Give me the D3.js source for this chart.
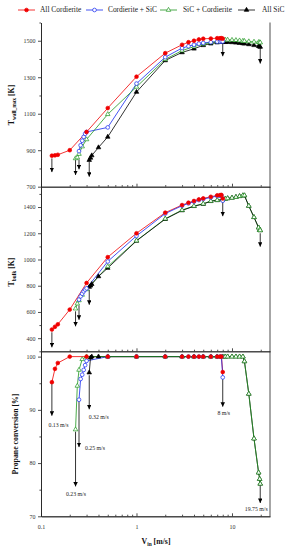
<!DOCTYPE html>
<html>
<head>
<meta charset="utf-8">
<script src="https://cdn.jsdelivr.net/npm/d3@7"></script>
<style>
body { margin: 0; background: #fff; }
svg { display: block; font-family: "Liberation Serif", "Times New Roman", serif; }
</style>
</head>
<body>
<svg width="289" height="550"></svg>
<script>
"use strict";

// --- data ---
const seriesNames = ["All Cordierite", "Cordierite + SiC", "SiC + Cordierite", "All SiC"];

const redV     = [0.13, 0.14, 0.15, 0.2, 0.3, 0.5, 1, 2, 3, 3.5, 4, 4.5, 5, 6, 7, 7.5, 7.75, 8];
const redTwall = [870, 872, 875, 900, 1000, 1131, 1303, 1432, 1478, 1492, 1500, 1507, 1511, 1512, 1514, 1514, 1514, 1512];
const redTbulk = [466, 487, 506, 618, 821, 1018, 1200, 1357, 1415, 1433, 1446, 1458, 1466, 1478, 1489, 1491, 1492, 1465];
const redConv  = [95.2, 97.7, 98.8, 100, 100, 100, 100, 100, 100, 100, 100, 100, 100, 100, 100, 100, 100, 97.1];

const blueV     = [0.25, 0.26, 0.27, 0.28, 0.29, 0.3, 0.5, 1, 2, 3, 3.5, 4, 4.5, 5, 6, 7, 7.5, 7.75, 8];
const blueTwall = [895, 927, 952, 973, 990, 1000, 1025, 1265, 1410, 1460, 1470, 1478, 1484, 1488, 1492, 1495, 1496, 1497, 1496];
const blueTbulk = [694, 719, 739, 757, 770, 780, 985, 1180, 1350, 1410, 1428, 1441, 1453, 1461, 1473, 1484, 1486, 1487, 1448];
const blueConv  = [91.9, 95.8, 96.6, 97.5, 98.4, 99.2, 100, 100, 100, 100, 100, 100, 100, 100, 100, 100, 100, 100, 96.1];

const greenV     = [0.23, 0.24, 0.25, 0.27, 0.3, 0.5, 1, 2, 3, 4, 5, 6, 7, 8, 8.5, 9, 10, 11, 12, 13, 13.5, 15, 17, 19, 19.5, 19.75];
const greenTwall = [855, 860, 879, 920, 959, 1097, 1247, 1398, 1446, 1468, 1482, 1490, 1495, 1500, 1505, 1505, 1504, 1503, 1501, 1499, 1498, 1496, 1494, 1492, 1491, 1490];
const greenTbulk = [625, 663, 688, 730, 772, 947, 1144, 1311, 1377, 1408, 1425, 1446, 1453, 1458, 1462, 1466, 1470, 1476, 1482, 1488, 1488, 1408, 1322, 1243, 1225, 1222];
const greenConv  = [86.3, 94.5, 97.5, 99.5, 100, 100, 100, 100, 100, 100, 100, 100, 100, 100, 100, 100, 100, 100, 100, 100, 99.1, 93, 84.6, 78.2, 77, 76.1];

const blackV     = [0.32, 0.33, 0.34, 0.4, 0.5, 1, 2, 3, 4, 5, 6, 7, 8, 8.5, 9, 10, 11, 12, 13, 13.5, 15, 17, 19, 19.5, 19.75];
const blackTwall = [846, 858, 871, 915, 973, 1219, 1392, 1436, 1456, 1475, 1484, 1490, 1492, 1492, 1492, 1491, 1489, 1487, 1485, 1484, 1480, 1475, 1470, 1468, 1466];
const blackTbulk = [790, 800, 812, 871, 935, 1142, 1308, 1374, 1406, 1423, 1444, 1451, 1456, 1462, 1466, 1470, 1476, 1482, 1488, 1488, 1408, 1322, 1243, 1225, 1222];
const blackConv  = [97, 99.8, 100, 100, 100, 100, 100, 100, 100, 100, 100, 100, 100, 100, 100, 100, 100, 100, 100, 99.1, 93, 84.6, 78.2, 77, 76.1];

// blow-off / flash-back arrows
const arrowV      = [0.13, 0.23, 0.25, 0.32, 8, 19.75];
const arrowLabels = ["0.13 m/s", "0.23 m/s", "0.25 m/s", "0.32 m/s", "8 m/s", "19.75 m/s"];
const twallArrowFrom = [855, 846, 850, 837, 1490, 1465];
const twallArrowTo   = [780, 764, 795, 755, 1415, 1375];
const tbulkArrowFrom = [445, 605, 650, 770, 1440, 1200];
const tbulkArrowTo   = [330, 490, 540, 655, 1330, 1098];
const convArrowFrom  = [95, 85.9, 91.6, 96.5, 95.9, 75.9];
const convArrowTo    = [88.9, 75.6, 83.0, 90.1, 90.6, 72.5];

// tick values
const xMajor = [0.1, 1, 10];
const xMinor = [0.2, 0.3, 0.4, 0.5, 0.6, 0.7, 0.8, 0.9, 2, 3, 4, 5, 6, 7, 8, 9, 20];
const twallMajor = [700, 900, 1100, 1300, 1500];
const twallMinor = [800, 1000, 1200, 1400, 1600];
const tbulkMajor = [400, 600, 800, 1000, 1200, 1400];
const tbulkMinor = [300, 500, 700, 900, 1100, 1300, 1500];
const convMajor = [70, 80, 90, 100];
const convMinor = [75, 85, 95];

// --- layout ---
const svg = d3.select("svg");
const left = 41, right = 270;
const axisColor = "#222";

const series = [
    {name: seriesNames[0], v: redV,   twall: redTwall,   tbulk: redTbulk,   conv: redConv,   color: "#f00000", shape: d3.symbolCircle,   filled: true,  size: 11},
    {name: seriesNames[1], v: blueV,  twall: blueTwall,  tbulk: blueTbulk,  conv: blueConv,  color: "#1428f0", shape: d3.symbolCircle,   filled: false, size: 11},
    {name: seriesNames[2], v: greenV, twall: greenTwall, tbulk: greenTbulk, conv: greenConv, color: "#1e961e", shape: d3.symbolTriangle, filled: false, size: 9},
    {name: seriesNames[3], v: blackV, twall: blackTwall, tbulk: blackTbulk, conv: blackConv, color: "#000000", shape: d3.symbolTriangle, filled: true,  size: 9}
];

const x = d3.scaleLog().domain([0.1, 25]).range([left, right]);

const panels = [
    {key: "twall", y: d3.scaleLinear().domain([700, 1600]).range([186.7, 22.5]),
     major: twallMajor, minor: twallMinor, from: twallArrowFrom, to: twallArrowTo, lineOrder: [0, 1, 2, 3]},
    {key: "tbulk", y: d3.scaleLinear().domain([300, 1555]).range([351.3, 186.7]),
     major: tbulkMajor, minor: tbulkMinor, from: tbulkArrowFrom, to: tbulkArrowTo, lineOrder: [0, 1, 2, 3]},
    {key: "conv", y: d3.scaleLinear().domain([70, 101]).range([516.3, 351.3]),
     major: convMajor, minor: convMinor, from: convArrowFrom, to: convArrowTo, lineOrder: [0, 1, 3, 2]}
];

// arrowhead
svg.append("defs").append("marker")
    .attr("id", "ah")
    .attr("viewBox", "0 0 10 10")
    .attr("refX", 10).attr("refY", 5)
    .attr("markerWidth", 4.5).attr("markerHeight", 4.5)
    .attr("markerUnits", "userSpaceOnUse")
    .attr("orient", "auto")
    .append("path").attr("d", "M0,0L10,5L0,10z").attr("fill", "#000");

function styleAxis(g) {
    g.attr("font-family", "'Liberation Serif', 'Times New Roman', serif").attr("font-size", 6);
    g.selectAll("path, line").attr("stroke", axisColor).attr("stroke-width", 0.8);
    g.selectAll("text").attr("fill", "#333");
}

panels.forEach((p, pi) => {
    const g = svg.append("g");
    const [yBot, yTop] = p.y.range();

    // axes
    g.append("g").attr("transform", `translate(${left},0)`)
        .call(d3.axisLeft(p.y).tickValues(p.major).tickSize(3).tickSizeOuter(0).tickPadding(2.5).tickFormat(d3.format("d")))
        .call(styleAxis);
    g.append("g").attr("transform", `translate(${left},0)`)
        .call(d3.axisLeft(p.y).tickValues(p.minor).tickSize(1.6).tickSizeOuter(0).tickFormat(""))
        .call(styleAxis);

    const last = pi === panels.length - 1;
    g.append("g").attr("transform", `translate(0,${yBot})`)
        .call(d3.axisBottom(x).tickValues(xMajor).tickSizeInner(-3).tickSizeOuter(0).tickPadding(8.5)
            .tickFormat(last ? d3.format("~g") : ""))
        .call(styleAxis);
    g.append("g").attr("transform", `translate(0,${yBot})`)
        .call(d3.axisBottom(x).tickValues(xMinor).tickSizeInner(-1.6).tickSizeOuter(0).tickFormat(""))
        .call(styleAxis);

    g.append("line")
        .attr("x1", right).attr("x2", right).attr("y1", yTop).attr("y2", yBot)
        .attr("stroke", axisColor).attr("stroke-width", 0.8);

    // lines
    const line = d3.line().x(d => x(d[0])).y(d => p.y(d[1]));
    p.lineOrder.forEach(i => {
        const s = series[i];
        g.append("path")
            .datum(s.v.map((v, k) => [v, s[p.key][k]]))
            .attr("d", line)
            .attr("fill", "none")
            .attr("stroke", s.color)
            .attr("stroke-width", 0.8);
    });

    // arrows
    g.selectAll(".arrow")
        .data(arrowV)
        .join("line")
            .attr("class", "arrow")
            .attr("x1", d => x(d)).attr("x2", d => x(d))
            .attr("y1", (d, i) => p.y(p.from[i]))
            .attr("y2", (d, i) => p.y(p.to[i]))
            .attr("stroke", "#000").attr("stroke-width", 0.8)
            .attr("marker-end", "url(#ah)");

    // markers
    [3, 2, 1, 0].forEach(i => {
        const s = series[i];
        g.append("g").selectAll("path")
            .data(s.v.map((v, k) => [v, s[p.key][k]]))
            .join("path")
                .attr("transform", d => `translate(${x(d[0])},${p.y(d[1])})`)
                .attr("d", d3.symbol(s.shape, s.size))
                .attr("fill", s.filled ? s.color : "#fff")
                .attr("stroke", s.color)
                .attr("stroke-width", 0.7);
    });
});

// arrow labels in the conversion panel
const labelDx = [6.6, 0.4, 16, 9.5, 1, -4];
const labelDy = [11, 9.5, 3, 10, 8.5, 8];
const convP = panels[2];
svg.append("g").selectAll("text")
    .data(arrowLabels)
    .join("text")
        .attr("x", (d, i) => x(arrowV[i]) + labelDx[i])
        .attr("y", (d, i) => convP.y(convP.to[i]) + labelDy[i])
        .attr("text-anchor", "middle")
        .attr("font-size", 5.8)
        .attr("fill", "#222")
        .text(d => d);

// axis titles
function title(xp, yp, rotate, main, sub, rest) {
    const t = svg.append("text")
        .attr("transform", `translate(${xp},${yp})` + (rotate ? " rotate(-90)" : ""))
        .attr("text-anchor", "middle")
        .attr("font-size", 7.8)
        .attr("font-weight", "bold")
        .attr("fill", "#111");
    t.append("tspan").text(main);
    if (sub) {
        t.append("tspan").attr("font-size", 5.4).attr("dy", 1.8).text(sub);
        t.append("tspan").attr("dy", -1.8).text(rest);
    }
}
title(14, 105, true, "T", "wall_max", " [K]");
title(14, 272, true, "T", "bulk", " [K]");
title(18, 434, true, "Propane conversion [%]");
title(156, 544, false, "V", "in", " [m/s]");

// legend
const legendLineX = [18, 86, 160, 238];
const legendTextX = [40, 108, 183, 262];
const legend = svg.append("g").attr("transform", "translate(0,10)");
series.forEach((s, i) => {
    legend.append("line")
        .attr("x1", legendLineX[i]).attr("x2", legendLineX[i] + 17)
        .attr("stroke", s.color).attr("stroke-width", 0.8);
    legend.append("path")
        .attr("transform", `translate(${legendLineX[i] + 8.5},0)`)
        .attr("d", d3.symbol(s.shape, s.size))
        .attr("fill", s.filled ? s.color : "#fff")
        .attr("stroke", s.color).attr("stroke-width", 0.7);
    legend.append("text")
        .attr("x", legendTextX[i])
        .attr("dy", "0.32em")
        .attr("font-size", 7.4)
        .attr("fill", "#222")
        .text(s.name);
});
</script>
</body>
</html>
